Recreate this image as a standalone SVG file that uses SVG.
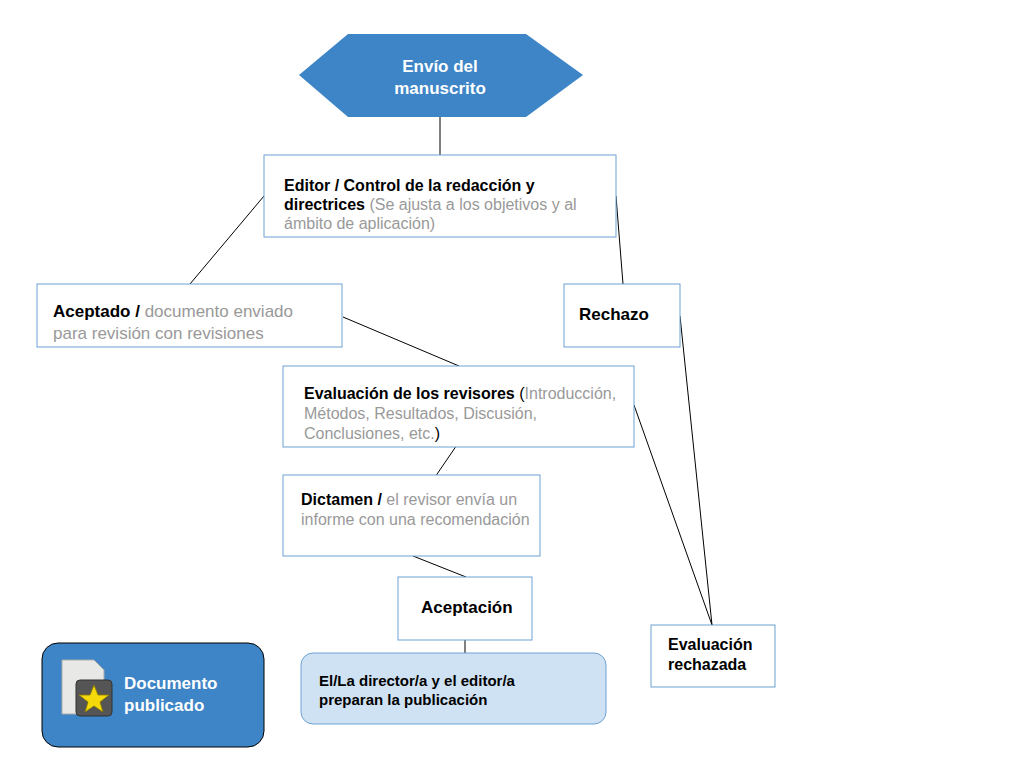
<svg xmlns="http://www.w3.org/2000/svg" width="1024" height="768" viewBox="0 0 1024 768">
<style>
text{font-family:"Liberation Sans",Arial,sans-serif;font-size:16px;fill:#000}
.b{font-weight:bold}
.g{fill:#999}
.w{fill:#fff;font-weight:bold;font-size:17px}
.box{fill:#fff;stroke:#6fa1d3;stroke-width:1}
.c line{stroke:#000;stroke-width:1}
</style>
<rect width="1024" height="768" fill="#fff"/>
<g class="c">
<line x1="440" y1="97" x2="440" y2="155"/>
<line x1="264" y1="196" x2="190" y2="284"/>
<line x1="616" y1="196" x2="623" y2="284"/>
<line x1="343" y1="317" x2="459" y2="366"/>
<line x1="461" y1="439" x2="433" y2="480"/>
<line x1="413" y1="556" x2="466" y2="577"/>
<line x1="465" y1="640" x2="465" y2="653"/>
<line x1="680" y1="316" x2="712" y2="625"/>
<line x1="634" y1="405" x2="712" y2="625"/>
</g>
<g id="envio">
<polygon points="299,75 348,34 526,34 583,75 526,117 348,117" fill="#3d85c6"/>
<text x="440" y="72" class="w" text-anchor="middle">Envío del</text>
<text x="440" y="94" class="w" text-anchor="middle">manuscrito</text>
</g>
<g id="editor">
<rect x="264" y="155" width="352" height="82" class="box"/>
<text x="284" y="191" class="b">Editor / Control de la redacción y</text>
<text x="284" y="210"><tspan class="b">directrices</tspan><tspan class="g"> (Se ajusta a los objetivos y al</tspan></text>
<text x="284" y="229" class="g">ámbito de aplicación)</text>
</g>
<g id="aceptado">
<rect x="37" y="284" width="305" height="63" class="box"/>
<text x="53" y="317" style="font-size:17px"><tspan class="b">Aceptado /</tspan><tspan class="g"> documento enviado</tspan></text>
<text x="53" y="339" class="g" style="font-size:17px">para revisión con revisiones</text>
</g>
<g id="rechazo">
<rect x="564" y="284" width="116" height="63" class="box"/>
<text x="579" y="320" class="b" style="font-size:17px">Rechazo</text>
</g>
<g id="evaluacion">
<rect x="283" y="366" width="351" height="81" class="box"/>
<text x="304" y="399"><tspan class="b">Evaluación de los revisores</tspan> (<tspan class="g">Introducción,</tspan></text>
<text x="304" y="419" class="g">Métodos, Resultados, Discusión,</text>
<text x="304" y="439"><tspan class="g">Conclusiones, etc.</tspan>)</text>
</g>
<g id="dictamen">
<rect x="283" y="475" width="257" height="81" class="box"/>
<text x="301" y="505"><tspan class="b">Dictamen /</tspan><tspan class="g"> el revisor envía un</tspan></text>
<text x="301" y="525" class="g">informe con una recomendación</text>
</g>
<g id="aceptacion">
<rect x="398" y="577" width="134" height="63" class="box"/>
<text x="421" y="613" class="b" style="font-size:17px">Aceptación</text>
</g>
<g id="rechazada">
<rect x="651" y="625" width="124" height="62" class="box"/>
<text x="668" y="650" class="b" style="font-size:16px">Evaluación</text>
<text x="668" y="670" class="b" style="font-size:16px">rechazada</text>
</g>
<g id="preparan">
<rect x="301" y="653" width="305" height="71" rx="12" fill="#cfe2f3" stroke="#6fa1d3"/>
<text x="319" y="686" class="b" style="font-size:15px">El/La director/a y el editor/a</text>
<text x="319" y="705" class="b" style="font-size:15px">preparan la publicación</text>
</g>
<g id="publicado">
<rect x="42" y="643" width="222" height="104" rx="16" fill="#3d85c6" stroke="#000"/>
<path d="M62,660 h32 l10,10 v44 h-42 z" fill="#e8e8e6" stroke="#aaa"/>
<rect x="76" y="680" width="36" height="36" rx="4" fill="#555" stroke="#333"/>
<polygon points="94,685 98,695 109,695 100,702 103,712 94,706 85,712 88,702 79,695 90,695" fill="#f5d90a" stroke="#8a7a00" stroke-width="0.8"/>
<text x="124" y="689" class="w">Documento</text>
<text x="124" y="711" class="w">publicado</text>
</g>
</svg>
